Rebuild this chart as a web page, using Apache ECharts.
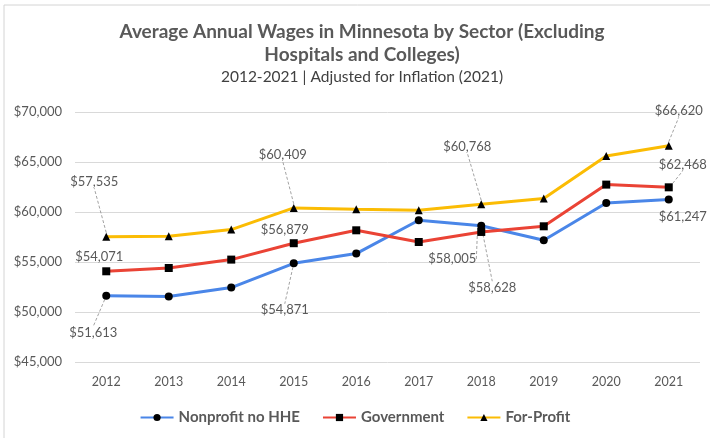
<!DOCTYPE html>
<html>
<head>
<meta charset="utf-8">
<script src="https://cdn.jsdelivr.net/npm/echarts@6/dist/echarts.min.js"></script>
<style>
  html, body { margin: 0; padding: 0; background: #fff; }
  #chart { width: 710px; height: 438px; }
</style>
</head>
<body>
<div id="chart"></div>
<script>
var years = ['2012', '2013', '2014', '2015', '2016', '2017', '2018', '2019', '2020', '2021'];
var nonprofit = [51613, 51560, 52440, 54871, 55840, 59170, 58628, 57170, 60900, 61247];
var government = [54071, 54400, 55240, 56879, 58170, 57000, 58005, 58570, 62740, 62468];
var forProfit = [57535, 57570, 58240, 60409, 60270, 60170, 60768, 61340, 65600, 66620];
var labeledYears = ['2012', '2015', '2018', '2021'];
var yMin = 45000, yMax = 70000, yStep = 5000;

// label placement (offset of label centre from its point) and leader line on/off
var labelStyle = {
  'Nonprofit no HHE': { off: [[-13, 37], [-9, 47], [11, 62], [14, 17]], line: [true, true, true, false] },
  'Government': { off: [[-7, -14], [-9, -13], [-29, 27], [14, -23]], line: [false, false, true, true] },
  'For-Profit': { off: [[-12, -55], [-11, -53], [-14, -58], [10, -35]], line: [true, true, true, true] }
};

var grey = '#595959';
var font = 'Lato, "Noto Sans", sans-serif';

function money(v) {
  return '$' + v.toLocaleString('en-US');
}

function buildData(name, values) {
  return values.map(function (v, i) {
    var k = labeledYears.indexOf(years[i]);
    if (k < 0) return v;
    return {
      value: v,
      label: { show: true },
      labelLine: { show: labelStyle[name].line[k] }
    };
  });
}

function makeSeries(name, values, color, symbol, size) {
  return {
    name: name,
    type: 'line',
    data: buildData(name, values),
    symbol: symbol,
    symbolSize: size,
    lineStyle: { color: color, width: 3 },
    itemStyle: { color: '#000' },
    label: {
      show: false,
      position: 'inside',
      formatter: function (p) { return money(p.value); },
      color: grey,
      fontSize: 13,
      fontFamily: font
    },
    labelLine: {
      show: false,
      lineStyle: { color: '#8a8a8a', width: 0.8, type: [3, 2] }
    },
    labelLayout: function (p) {
      var k = labeledYears.indexOf(years[p.dataIndex]);
      if (k < 0) return {};
      var o = labelStyle[name].off[k];
      return { dx: o[0], dy: o[1] };
    }
  };
}

var chart = echarts.init(document.getElementById('chart'));
chart.setOption({
  backgroundColor: '#fff',
  animation: false,
  textStyle: { fontFamily: font },
  graphic: [{
    type: 'rect',
    shape: { x: 4, y: 5, width: 800, height: 500 },
    style: { fill: 'none', stroke: '#d4d4d4', lineWidth: 1 },
    silent: true
  }],
  title: {
    text: 'Average Annual Wages in Minnesota by Sector (Excluding\nHospitals and Colleges)',
    subtext: '2012-2021 | Adjusted for Inflation (2021)',
    left: 362,
    textAlign: 'center',
    top: 20,
    padding: 0,
    itemGap: 2,
    textStyle: { color: grey, fontSize: 19, fontWeight: 'bold', lineHeight: 23, fontFamily: font },
    subtextStyle: { color: '#404040', fontSize: 15.5, lineHeight: 18, fontFamily: font }
  },
  legend: {
    bottom: 13,
    left: 'center',
    padding: [0, 0, 0, 14],
    itemWidth: 33,
    itemHeight: 9,
    itemGap: 22,
    textStyle: { color: grey, fontSize: 15, fontWeight: 'bold', fontFamily: font },
    data: ['Nonprofit no HHE', 'Government', 'For-Profit']
  },
  grid: { left: 75, right: 10, top: 112, bottom: 76 },
  xAxis: {
    type: 'category',
    data: years,
    boundaryGap: true,
    axisLine: { show: false },
    axisTick: { show: false },
    axisLabel: { color: grey, fontSize: 12.5, margin: 13, fontFamily: font }
  },
  yAxis: {
    type: 'value',
    min: yMin,
    max: yMax,
    interval: yStep,
    axisLine: { show: false },
    axisTick: { show: false },
    splitLine: { lineStyle: { color: '#d9d9d9', width: 1 } },
    axisLabel: { color: grey, fontSize: 13, margin: 13, fontFamily: font, formatter: money }
  },
  series: [
    makeSeries('Nonprofit no HHE', nonprofit, '#4a86e8', 'circle', 8),
    makeSeries('Government', government, '#ea4335', 'rect', 8),
    makeSeries('For-Profit', forProfit, '#fbbc04', 'triangle', 8)
  ]
});
</script>
</body>
</html>
